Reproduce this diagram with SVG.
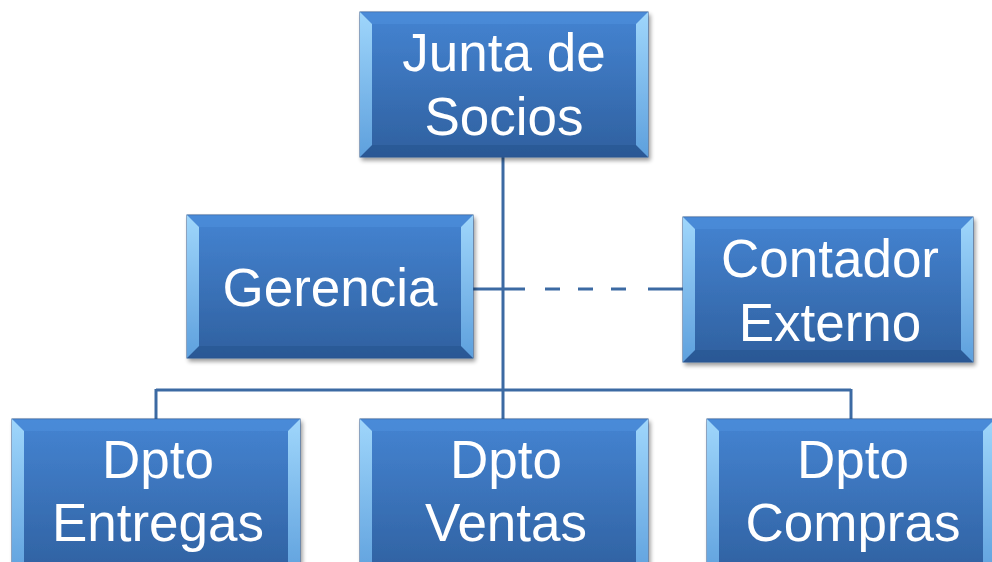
<svg xmlns="http://www.w3.org/2000/svg" width="992" height="562" viewBox="0 0 992 562">
<defs>
<linearGradient id="face" x1="0" y1="0" x2="0" y2="1">
<stop offset="0" stop-color="#4584d2"/>
<stop offset="1" stop-color="#2f609f"/>
</linearGradient>
<linearGradient id="side" x1="0" y1="0" x2="0" y2="1">
<stop offset="0" stop-color="#9fd6fb"/>
<stop offset="1" stop-color="#5ea0dd"/>
</linearGradient>
<filter id="sh" x="-5%" y="-5%" width="115%" height="115%">
<feGaussianBlur in="SourceAlpha" stdDeviation="2"/>
<feOffset dx="2" dy="3"/>
<feComponentTransfer><feFuncA type="linear" slope="0.4"/></feComponentTransfer>
<feMerge><feMergeNode/><feMergeNode in="SourceGraphic"/></feMerge>
</filter>
</defs>
<style>
.box{fill:url(#face);stroke:#2b5790;stroke-width:1}
.bt{fill:#4f8fdc;opacity:0.6}
.bb{fill:#26528c;opacity:0.5}
.bs{fill:url(#side)}
.t{font-family:"Liberation Sans","Open Sans",Arial,sans-serif;font-size:53px;fill:#ffffff;text-anchor:middle}
.c{stroke:#3c6aa3;stroke-width:3;fill:none}
</style>
<g id="connectors">
<line class="c" x1="503" y1="157" x2="503" y2="419"/>
<line class="c" x1="156" y1="390" x2="851" y2="390"/>
<line class="c" x1="156" y1="389" x2="156" y2="419"/>
<line class="c" x1="851" y1="389" x2="851" y2="419"/>
<line class="c" x1="473" y1="289" x2="525" y2="289"/>
<line class="c" x1="545" y1="289" x2="640" y2="289" stroke-dasharray="15 18"/>
<line class="c" x1="648" y1="289" x2="683" y2="289"/>
</g>
<g id="junta" filter="url(#sh)">
<rect class="box" x="360" y="12" width="288" height="145"/>
<polygon class="bt" points="360,12 648,12 636,24 372,24"/>
<polygon class="bb" points="360,157 648,157 636,145 372,145"/>
<polygon class="bs" points="360,12 372,24 372,145 360,157"/>
<polygon class="bs" points="648,12 636,24 636,145 648,157"/>
<text class="t" x="504" y="71">Junta de</text>
<text class="t" x="504" y="135">Socios</text>
</g>
<g id="gerencia" filter="url(#sh)">
<rect class="box" x="187" y="215" width="286" height="143"/>
<polygon class="bt" points="187,215 473,215 461,227 199,227"/>
<polygon class="bb" points="187,358 473,358 461,346 199,346"/>
<polygon class="bs" points="187,215 199,227 199,346 187,358"/>
<polygon class="bs" points="473,215 461,227 461,346 473,358"/>
<text class="t" x="330" y="306">Gerencia</text>
</g>
<g id="contador" filter="url(#sh)">
<rect class="box" x="683" y="217" width="290" height="145"/>
<polygon class="bt" points="683,217 973,217 961,229 695,229"/>
<polygon class="bb" points="683,362 973,362 961,350 695,350"/>
<polygon class="bs" points="683,217 695,229 695,350 683,362"/>
<polygon class="bs" points="973,217 961,229 961,350 973,362"/>
<text class="t" x="830" y="277">Contador</text>
<text class="t" x="830" y="341">Externo</text>
</g>
<g id="entregas" filter="url(#sh)">
<rect class="box" x="12" y="419" width="288" height="160"/>
<polygon class="bt" points="12,419 300,419 288,431 24,431"/>
<polygon class="bs" points="12,419 24,431 24,579 12,579"/>
<polygon class="bs" points="300,419 288,431 288,579 300,579"/>
<text class="t" x="158" y="478">Dpto</text>
<text class="t" x="158" y="541">Entregas</text>
</g>
<g id="ventas" filter="url(#sh)">
<rect class="box" x="360" y="419" width="288" height="160"/>
<polygon class="bt" points="360,419 648,419 636,431 372,431"/>
<polygon class="bs" points="360,419 372,431 372,579 360,579"/>
<polygon class="bs" points="648,419 636,431 636,579 648,579"/>
<text class="t" x="506" y="478">Dpto</text>
<text class="t" x="506" y="541">Ventas</text>
</g>
<g id="compras" filter="url(#sh)">
<rect class="box" x="707" y="419" width="288" height="160"/>
<polygon class="bt" points="707,419 995,419 983,431 719,431"/>
<polygon class="bs" points="707,419 719,431 719,579 707,579"/>
<polygon class="bs" points="995,419 983,431 983,579 995,579"/>
<text class="t" x="853" y="478">Dpto</text>
<text class="t" x="853" y="541">Compras</text>
</g>
</svg>
